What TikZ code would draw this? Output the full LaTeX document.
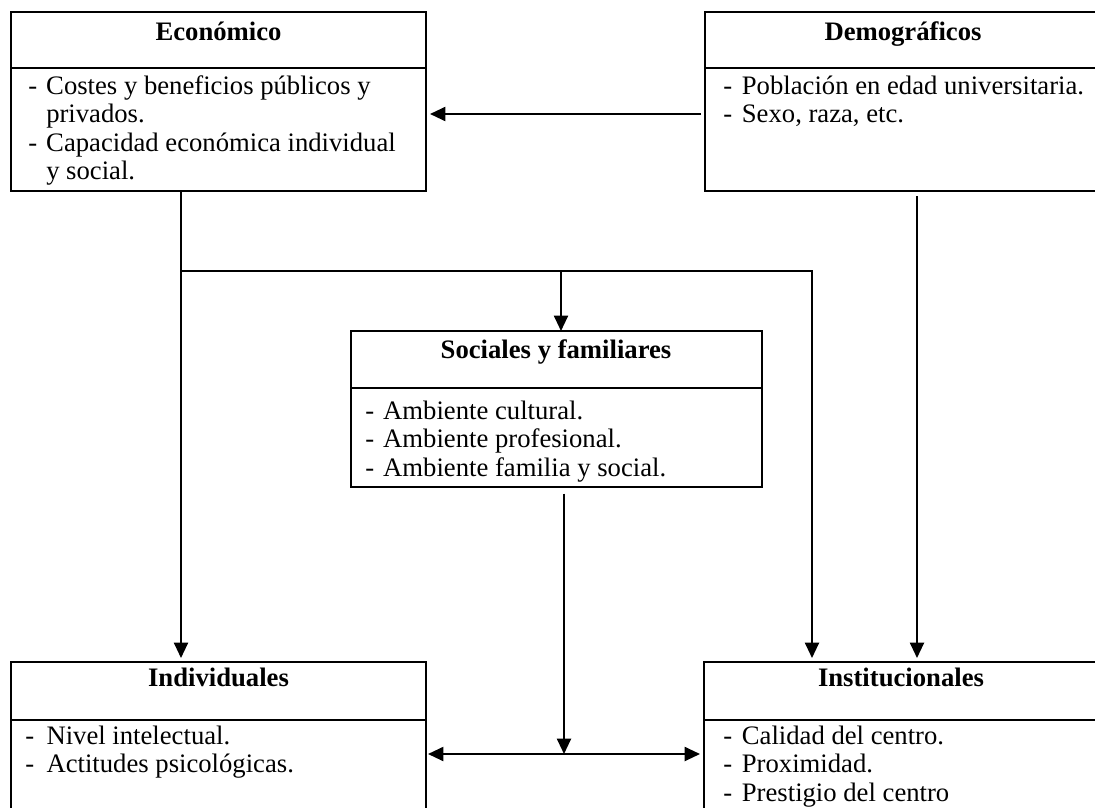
\documentclass[tikz,border=0pt]{standalone}
\usepackage{fontspec}
\setmainfont{Liberation Serif}
\usetikzlibrary{arrows.meta}
\begin{document}
\begin{tikzpicture}[x=0.75pt,y=-0.75pt,
  box/.style={draw,line width=1.5pt,inner sep=0pt,outer sep=0pt,anchor=north west},
  ttl/.style={font=\fontsize{20}{21.4}\selectfont\bfseries,anchor=base,inner sep=0pt},
  body/.style={font=\fontsize{20}{21.4}\selectfont,anchor=base west,inner sep=0pt},
  divline/.style={line width=1.5pt},
  conn/.style={line width=1.5pt},
  tip/.style={-{Triangle[length=11.5pt,width=10.5pt]}},
]
\useasboundingbox (0,0) rectangle (1095,807);
\clip (0,0) rectangle (1095,807);

% boxes
\node[box,minimum width=311.25pt,minimum height=134.25pt] (eco) at (11,12) {};
\node[box,minimum width=296.25pt,minimum height=134.25pt] (demo) at (705,12) {};
\node[box,minimum width=308.25pt,minimum height=117pt] (soc) at (351,331) {};
\node[box,minimum width=311.25pt,minimum height=150pt] (indiv) at (11,662) {};
\node[box,minimum width=297pt,minimum height=150pt] (inst) at (704,662) {};

% dividers
\draw[divline] (eco.west |- 0,68) -- (eco.east |- 0,68);
\draw[divline] (demo.west |- 0,68) -- (demo.east |- 0,68);
\draw[divline] (soc.west |- 0,388) -- (soc.east |- 0,388);
\draw[divline] (indiv.west |- 0,720) -- (indiv.east |- 0,720);
\draw[divline] (inst.west |- 0,720) -- (inst.east |- 0,720);

% titles
\node[ttl] (ecot) at (218.5,40) {Económico};
\node[ttl] (demot) at (903,40) {Demográficos};
\node[ttl] (soct) at (556,358) {Sociales y familiares};
\node[ttl] (indivt) at (218.5,686) {Individuales};
\node[ttl] (instt) at (901,686) {Institucionales};

% bodies
\node[body] (ecob) at (28,94) {\begin{tabular}[t]{@{}p{13.5pt}@{}l@{}}
- & Costes y beneficios públicos y\\
  & privados.\\
- & Capacidad económica individual\\
  & y social.\end{tabular}};
\node[body] (demob) at (723,94) {\begin{tabular}[t]{@{}p{14pt}@{}l@{}}
- & Población en edad universitaria.\\
- & Sexo, raza, etc.\end{tabular}};
\node[body] (socb) at (365,419) {\begin{tabular}[t]{@{}p{13.5pt}@{}l@{}}
- & Ambiente cultural.\\
- & Ambiente profesional.\\
- & Ambiente familia y social.\end{tabular}};
\node[body] (indivb) at (25,744) {\begin{tabular}[t]{@{}p{16pt}@{}l@{}}
- & Nivel intelectual.\\
- & Actitudes psicológicas.\end{tabular}};
\node[body] (instb) at (723,744) {\begin{tabular}[t]{@{}p{14pt}@{}l@{}}
- & Calidad del centro.\\
- & Proximidad.\\
- & Prestigio del centro\end{tabular}};

% helper coordinates
\coordinate (jl) at (181,271);
\coordinate (jm) at (561,271);
\coordinate (jr) at (812,271);
\coordinate (dx) at (917,200);
\coordinate (mid) at (564,754);

% connectors
\draw[conn,tip,shorten <=3pt,shorten >=3pt] (demo.west |- 0,114) -- (eco.east |- 0,114);
\draw[conn,tip,shorten >=3pt] (eco.south -| jl) -- (indiv.north -| jl);
\draw[conn,tip,shorten >=3pt] (jl) -- (jr) -- (inst.north -| jr);
\draw[conn,tip] (jm) -- (soc.north -| jm);
\draw[conn,tip,shorten <=4pt,shorten >=3pt] (demo.south -| dx) -- (inst.north -| dx);
\draw[conn,tip,shorten <=5pt] (soc.south -| mid) -- (mid);
\draw[conn,{Triangle[length=11.5pt,width=10.5pt]}-{Triangle[length=11.5pt,width=10.5pt]},shorten <=1.5pt,shorten >=3pt] (indiv.east |- mid) -- (inst.west |- mid);
\end{tikzpicture}
\end{document}
